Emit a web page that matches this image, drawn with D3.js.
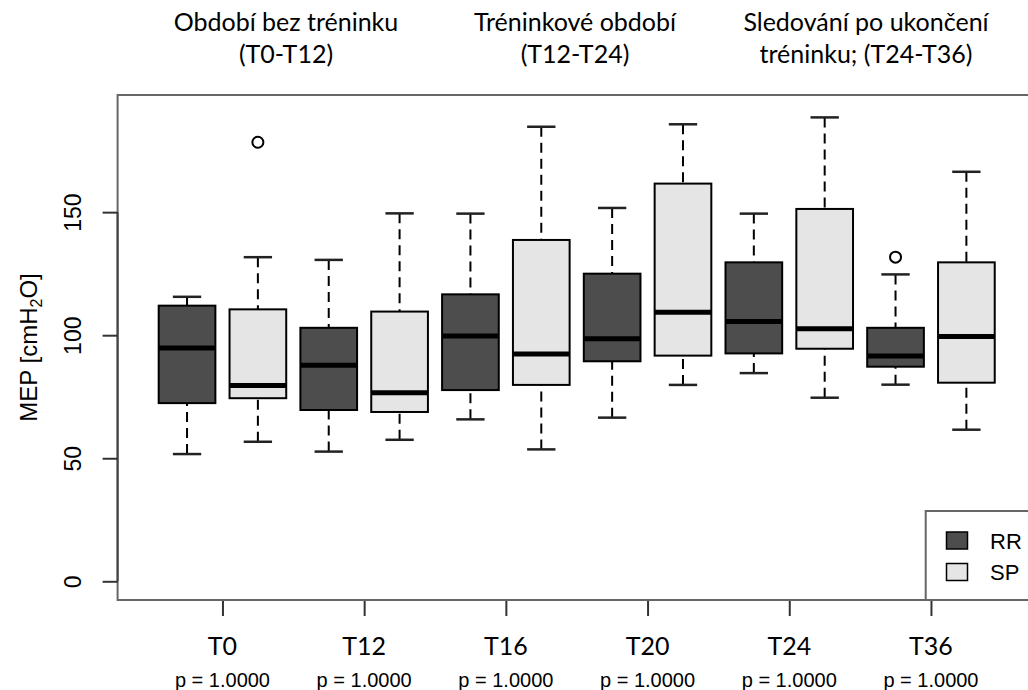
<!DOCTYPE html>
<html>
<head>
<meta charset="utf-8">
<script src="https://cdn.jsdelivr.net/npm/d3@7"></script>
<style>
  html, body { margin: 0; padding: 0; background: #fff; }
  svg { display: block; }
  .r-text { font-family: "Liberation Sans", Arial, sans-serif; fill: #000; }
  .cal-text { font-family: Lato, "Open Sans", sans-serif; fill: #000; }
</style>
</head>
<body>
<svg id="chart" width="1028" height="690"></svg>
<script>
// Time points and the p-value printed under each
const categories = ["T0", "T12", "T16", "T20", "T24", "T36"];
const pValues = [1.0, 1.0, 1.0, 1.0, 1.0, 1.0];
const groups = ["RR", "SP"];
const yTicks = [0, 50, 100, 150];

// Box statistics, RR group (MEP, cmH2O)
const rrLow    = [51.7, 52.7, 65.8, 66.5, 84.6, 79.9];
const rrQ1     = [72.4, 69.6, 77.7, 89.4, 92.6, 87.2];
const rrMedian = [94.8, 87.8, 99.7, 98.6, 105.6, 91.5];
const rrQ3     = [112.0, 103.0, 116.6, 125.0, 129.6, 103.0];
const rrHigh   = [115.6, 130.6, 149.4, 151.7, 149.4, 124.7];
const rrOut    = [[], [], [], [], [], [131.7]];

// Box statistics, SP group
const spLow    = [56.7, 57.5, 53.6, 79.8, 74.6, 61.6];
const spQ1     = [74.4, 68.8, 79.8, 91.7, 94.5, 80.7];
const spMedian = [79.6, 76.6, 92.4, 109.3, 102.6, 99.5];
const spQ3     = [110.5, 109.6, 138.7, 161.6, 151.3, 129.6];
const spHigh   = [131.7, 149.5, 184.7, 185.7, 188.5, 166.4];
const spOut    = [[178.4], [], [], [], [], []];

// Period headings above the plot
const periodLines = [
  ["Období bez tréninku", "(T0-T12)"],
  ["Tréninkové období", "(T12-T24)"],
  ["Sledování po ukončení", "tréninku; (T24-T36)"]
];

const fills = { RR: "#4d4d4d", SP: "#e5e5e5" };

// assemble box records (position 1..12: RR,SP pairs)
const boxes = [];
categories.forEach((c, i) => {
  boxes.push({ cat: c, group: "RR", pos: 2 * i + 1, low: rrLow[i], q1: rrQ1[i], med: rrMedian[i], q3: rrQ3[i], high: rrHigh[i], out: rrOut[i] });
  boxes.push({ cat: c, group: "SP", pos: 2 * i + 2, low: spLow[i], q1: spQ1[i], med: spMedian[i], q3: spQ3[i], high: spHigh[i], out: spOut[i] });
});

const svg = d3.select("#chart");

const plot = { left: 117.6, top: 95, bottom: 600 };
const n = boxes.length;
const unit = 70.85;
const x = d3.scaleLinear()
  .domain([0.5 - 0.04 * n, n + 0.5 + 0.04 * n])
  .range([plot.left, plot.left + (n + 0.08 * n) * unit]);
const y = d3.scaleLinear().domain([-7.6, 197.6]).range([plot.bottom, plot.top]);

const boxW = 0.8 * unit;
const capW = boxW / 2;

// plot frame (right side runs past the page edge)
svg.append("rect")
  .attr("x", plot.left).attr("y", plot.top)
  .attr("width", 1100 - plot.left).attr("height", plot.bottom - plot.top)
  .attr("fill", "none").attr("stroke", "#666").attr("stroke-width", 2);

// y axis
const yAxis = d3.axisLeft(y).tickValues(yTicks).tickSize(15).tickSizeOuter(0).tickPadding(0);
const gy = svg.append("g").attr("transform", `translate(${plot.left},0)`).call(yAxis);
gy.select(".domain").attr("stroke", "#444").attr("stroke-width", 2)
  .attr("d", `M0,${y(yTicks[0])}V${y(yTicks[yTicks.length - 1])}`);
gy.selectAll(".tick line").attr("stroke", "#333").attr("stroke-width", 2);
gy.selectAll(".tick text").remove();
gy.selectAll(".tick").append("text")
  .attr("class", "r-text")
  .attr("transform", "translate(-37,0) rotate(-90)")
  .attr("text-anchor", "middle")
  .attr("font-size", 23)
  .attr("fill", "#000")
  .text(d => d);

// y axis title with subscript
const yt = svg.append("text").attr("class", "r-text")
  .attr("transform", `translate(37,${(plot.top + plot.bottom) / 2}) rotate(-90)`)
  .attr("text-anchor", "middle").attr("font-size", 24);
yt.append("tspan").text("MEP [cmH");
yt.append("tspan").attr("font-size", 16).attr("dy", 5).text("2");
yt.append("tspan").attr("dy", -5).text("O]");

// x axis ticks at the centre of each pair
const catX = d3.scaleOrdinal().domain(categories).range(categories.map((c, i) => x(2 * i + 1.5)));
const xAxis = d3.axisBottom(catX).tickSize(15).tickSizeOuter(0).tickFormat("");
const gx = svg.append("g").attr("transform", `translate(0,${plot.bottom + 1})`).call(xAxis);
gx.select(".domain").remove();
gx.selectAll(".tick line").attr("stroke", "#333").attr("stroke-width", 2);

// category labels and p-values
svg.selectAll("text.cat").data(categories).join("text")
  .attr("class", "cat cal-text")
  .attr("x", d => catX(d)).attr("y", 655)
  .attr("text-anchor", "middle").attr("font-size", 25)
  .text(d => d);
svg.selectAll("text.pval").data(categories).join("text")
  .attr("class", "pval r-text")
  .attr("x", d => catX(d)).attr("y", 686.5)
  .attr("text-anchor", "middle").attr("font-size", 20)
  .text((d, i) => "p = " + pValues[i].toFixed(4));

// boxes
const g = svg.selectAll("g.box").data(boxes).join("g").attr("class", "box");

// whiskers (drawn from the staple toward the hinge)
g.append("line")
  .attr("x1", d => x(d.pos)).attr("x2", d => x(d.pos))
  .attr("y1", d => y(d.high)).attr("y2", d => y(d.q3))
  .attr("stroke", "#000").attr("stroke-width", 2).attr("stroke-dasharray", "10,6");
g.append("line")
  .attr("x1", d => x(d.pos)).attr("x2", d => x(d.pos))
  .attr("y1", d => y(d.low)).attr("y2", d => y(d.q1))
  .attr("stroke", "#000").attr("stroke-width", 2).attr("stroke-dasharray", "10,6");
// staples
g.append("line")
  .attr("x1", d => x(d.pos) - capW / 2).attr("x2", d => x(d.pos) + capW / 2)
  .attr("y1", d => y(d.high)).attr("y2", d => y(d.high))
  .attr("stroke", "#222").attr("stroke-width", 2.5);
g.append("line")
  .attr("x1", d => x(d.pos) - capW / 2).attr("x2", d => x(d.pos) + capW / 2)
  .attr("y1", d => y(d.low)).attr("y2", d => y(d.low))
  .attr("stroke", "#222").attr("stroke-width", 2.5);
// box
g.append("rect")
  .attr("x", d => x(d.pos) - boxW / 2).attr("width", boxW)
  .attr("y", d => y(d.q3)).attr("height", d => y(d.q1) - y(d.q3))
  .attr("fill", d => fills[d.group]).attr("stroke", "#000").attr("stroke-width", 2);
// median
g.append("line")
  .attr("x1", d => x(d.pos) - boxW / 2).attr("x2", d => x(d.pos) + boxW / 2)
  .attr("y1", d => y(d.med)).attr("y2", d => y(d.med))
  .attr("stroke", "#000").attr("stroke-width", 5);
// outliers
g.selectAll("circle").data(d => d.out.map(v => ({ v, pos: d.pos }))).join("circle")
  .attr("cx", d => x(d.pos)).attr("cy", d => y(d.v)).attr("r", 5.5)
  .attr("fill", "none").attr("stroke", "#000").attr("stroke-width", 2);

// legend
const leg = svg.append("g");
leg.append("rect").attr("x", 925.7).attr("y", 511).attr("width", 200).attr("height", plot.bottom - 511)
  .attr("fill", "#fff").attr("stroke", "#666").attr("stroke-width", 2);
groups.forEach((gr, i) => {
  leg.append("rect").attr("x", 946.5).attr("y", 532 + i * 31.5).attr("width", 21).attr("height", 17)
    .attr("fill", fills[gr]).attr("stroke", "#000").attr("stroke-width", 1.5);
  leg.append("text").attr("class", "r-text").attr("x", 990).attr("y", 548.5 + i * 31.5)
    .attr("font-size", 22).text(gr);
});

// period headings
const headX = [286, 575, 866];
periodLines.forEach((lines, i) => {
  lines.forEach((t, j) => {
    svg.append("text").attr("class", "cal-text")
      .attr("x", headX[i]).attr("y", 31 + j * 32)
      .attr("text-anchor", "middle").attr("font-size", 25)
      .text(t);
  });
});
</script>
</body>
</html>
